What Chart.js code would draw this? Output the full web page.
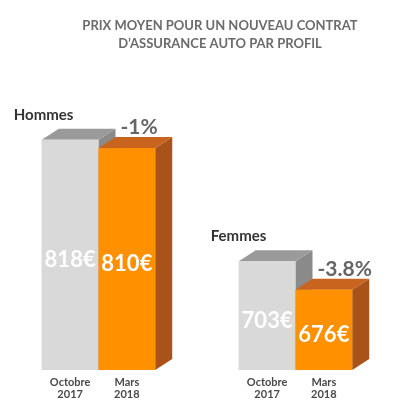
<!DOCTYPE html>
<html><head><meta charset="utf-8">
<script src="https://cdn.jsdelivr.net/npm/chart.js@4"></script>
<style>body{margin:0;background:#fff}#wrap{width:411px;height:411px}</style>
</head><body><div id="wrap"><canvas id="c"></canvas></div>
<script>
var groups = ['Hommes', 'Femmes'];
var octobre2017 = [818, 703];
var mars2018 = [810, 676];
var changes = ['-1%', '-3.8%'];
var periods = [['Octobre', '2017'], ['Mars', '2018']];

var faces = {
  gray: {front: '#d9d9d9', top: '#9a9a9a', side: '#8a8a8a'},
  orange: {front: '#ff9000', top: '#c8641e', side: '#a9521a'}
};

var deco = {
  id: 'deco',
  afterDatasetsDraw: function(chart) {
    var c = chart.ctx, dx = 17, dy = -11, b = chart.scales.y.bottom;
    c.save();
    c.fillStyle = '#6b6b6b';
    c.textAlign = 'center';
    c.font = 'bold 13px Lato';
    c.fillText('PRIX MOYEN POUR UN NOUVEAU CONTRAT', 220, 30);
    c.fillText('D\u2019ASSURANCE AUTO PAR PROFIL', 220, 48);
    chart.data.datasets.forEach(function(ds, di) {
      var f = di === 0 ? faces.gray : faces.orange;
      chart.getDatasetMeta(di).data.forEach(function(bar, i) {
        var l = bar.x - bar.width / 2, r = bar.x + bar.width / 2, t = bar.y;
        c.fillStyle = f.side;
        c.beginPath(); c.moveTo(r, t); c.lineTo(r + dx, t + dy); c.lineTo(r + dx, b + dy); c.lineTo(r, b); c.fill();
        c.fillStyle = f.top;
        c.beginPath(); c.moveTo(l, t); c.lineTo(l + dx, t + dy); c.lineTo(r + dx, t + dy); c.lineTo(r, t); c.fill();
        c.fillStyle = f.front;
        c.fillRect(l, t, r - l, b - t);
        c.fillStyle = '#fff';
        c.font = 'bold 22px Lato';
        c.textAlign = 'center';
        c.textBaseline = 'middle';
        c.fillText(ds.data[i] + '€', bar.x, (t + b) / 2 + 5);
        c.fillStyle = '#4a4a4a';
        c.font = 'bold 11px Lato';
        c.textBaseline = 'alphabetic';
        c.fillText(periods[di][0], bar.x, b + 16);
        c.fillText(periods[di][1], bar.x, b + 28);
      });
    });
    var g = chart.getDatasetMeta(0).data, o = chart.getDatasetMeta(1).data;
    for (var i = 0; i < groups.length; i++) {
      c.textBaseline = 'alphabetic';
      c.textAlign = 'left';
      c.fillStyle = '#333';
      c.font = 'bold 15px Lato';
      c.fillText(groups[i], g[i].x - g[i].width / 2 - 28, g[i].y - 20);
      c.fillStyle = '#666';
      c.font = 'bold 21px Lato';
      c.fillText(changes[i], o[i].x - o[i].width / 2 + 22, o[i].y - 14);
    }
    c.restore();
  }
};

new Chart(document.getElementById('c'), {
  type: 'bar',
  data: {
    labels: groups,
    datasets: [
      {label: 'Octobre 2017', data: octobre2017, backgroundColor: faces.gray.front},
      {label: 'Mars 2018', data: mars2018, backgroundColor: faces.orange.front}
    ]
  },
  options: {
    responsive: true,
    maintainAspectRatio: false,
    animation: false,
    layout: {padding: {top: 53, bottom: 41, left: 0, right: 17}},
    categoryPercentage: 0.576,
    barPercentage: 1,
    plugins: {legend: {display: false}, tooltip: {enabled: false}},
    scales: {
      x: {display: false},
      y: {display: false, min: 600, max: 900}
    }
  },
  plugins: [deco]
});
</script></body></html>
